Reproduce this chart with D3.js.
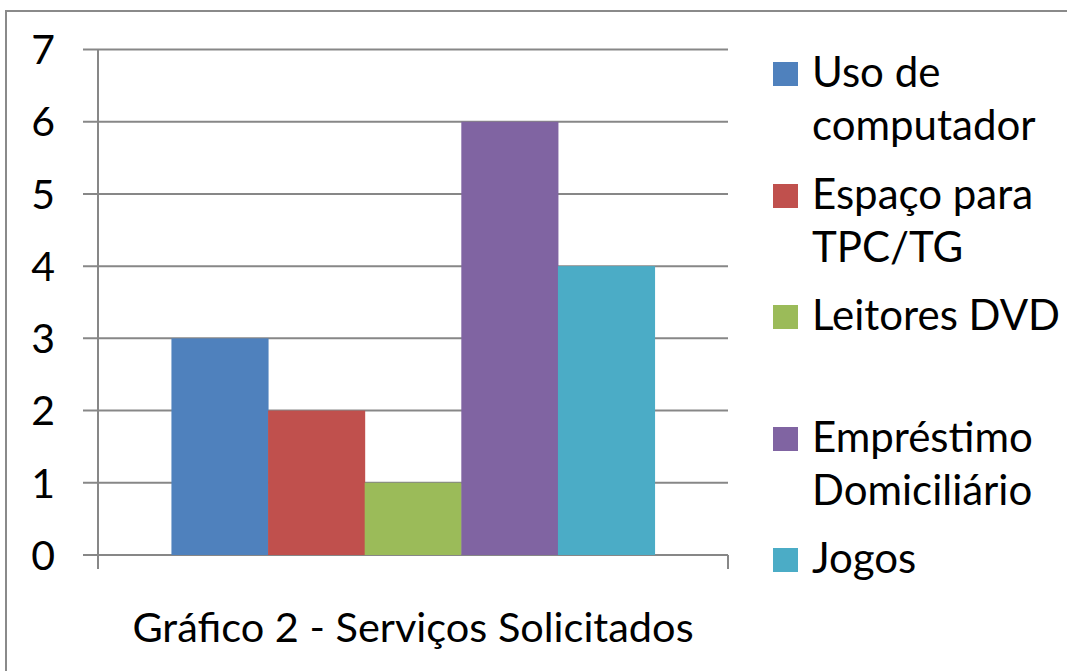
<!DOCTYPE html>
<html>
<head>
<meta charset="utf-8">
<script src="https://cdn.jsdelivr.net/npm/d3@7"></script>
<style>
  html, body { margin: 0; padding: 0; background: #fff; }
  svg { display: block; }
  text { font-family: Lato, "Open Sans", "Noto Sans", sans-serif; fill: #000; }
</style>
</head>
<body>
<svg id="chart" width="1067" height="671"></svg>
<script>
// Services requested (one category, five series)
const seriesNames = ["Uso de computador", "Espaço para TPC/TG", "Leitores DVD", "Empréstimo Domiciliário", "Jogos"];
const seriesValues = [3, 2, 1, 6, 4];
const seriesColors = ["#4F81BD", "#C0504D", "#9BBB59", "#8064A2", "#4BACC6"];
const legendLines = [["Uso de", "computador"], ["Espaço para", "TPC/TG"], ["Leitores DVD"], ["Empréstimo", "Domiciliário"], ["Jogos"]];
const yTicks = [0, 1, 2, 3, 4, 5, 6, 7];
const categories = ["Gráfico 2 - Serviços Solicitados"];

const svg = d3.select("#chart");
const gridColor = "#878787";

// outer frame
svg.append("rect")
  .attr("x", 6).attr("y", 11)
  .attr("width", 1100).attr("height", 700)
  .attr("fill", "#fff")
  .attr("stroke", "#8a8a8a").attr("stroke-width", 2);

const plot = { left: 98, right: 728, top: 49.5, bottom: 555 };

const y = d3.scaleLinear().domain([0, 7]).range([plot.bottom, plot.top]);
const x0 = d3.scaleBand().domain(categories).range([plot.left, plot.right]).paddingInner(0).paddingOuter(0.152);
const x1 = d3.scaleBand().domain(seriesNames).range([0, x0.bandwidth()]).padding(0);

// gridlines
svg.append("g").selectAll("line").data(yTicks).join("line")
  .attr("x1", plot.left - 15).attr("x2", plot.right)
  .attr("y1", d => y(d)).attr("y2", d => y(d))
  .attr("stroke", gridColor).attr("stroke-width", 2);

// bars
const group = svg.append("g")
  .attr("transform", `translate(${x0(categories[0])},0)`);
group.selectAll("rect").data(seriesValues).join("rect")
  .attr("x", (d, i) => x1(seriesNames[i]))
  .attr("width", x1.bandwidth() + 0.5)
  .attr("y", d => y(d))
  .attr("height", d => y(0) - y(d))
  .attr("fill", (d, i) => seriesColors[i]);

// value axis line
svg.append("line")
  .attr("x1", plot.left).attr("x2", plot.left)
  .attr("y1", plot.top).attr("y2", plot.bottom + 14)
  .attr("stroke", gridColor).attr("stroke-width", 2);

// category axis end tick
svg.append("line")
  .attr("x1", plot.right).attr("x2", plot.right)
  .attr("y1", plot.bottom).attr("y2", plot.bottom + 14)
  .attr("stroke", gridColor).attr("stroke-width", 2);

// y tick labels
svg.append("g").selectAll("text").data(yTicks).join("text")
  .attr("x", 55).attr("y", d => y(d))
  .attr("dy", "0.36em")
  .attr("text-anchor", "end")
  .attr("font-size", 41)
  .text(d => d);

// category label
svg.append("text")
  .attr("x", x0.range()[0] + (x0.range()[1] - x0.range()[0]) / 2)
  .attr("y", 642)
  .attr("text-anchor", "middle")
  .attr("font-size", 41.5)
  .text(categories[0]);

// legend
const legendTop = [62, 184, 305, 427, 548];
const legend = svg.append("g");
legendLines.forEach((lines, i) => {
  legend.append("rect")
    .attr("x", 773).attr("y", legendTop[i])
    .attr("width", 25).attr("height", 24)
    .attr("fill", seriesColors[i]);
  const t = legend.append("text")
    .attr("x", 812).attr("y", legendTop[i] + 25)
    .attr("font-size", 42);
  lines.forEach((ln, j) => {
    t.append("tspan").attr("x", 812).attr("dy", j === 0 ? 0 : 53).text(ln);
  });
});
</script>
</body>
</html>
